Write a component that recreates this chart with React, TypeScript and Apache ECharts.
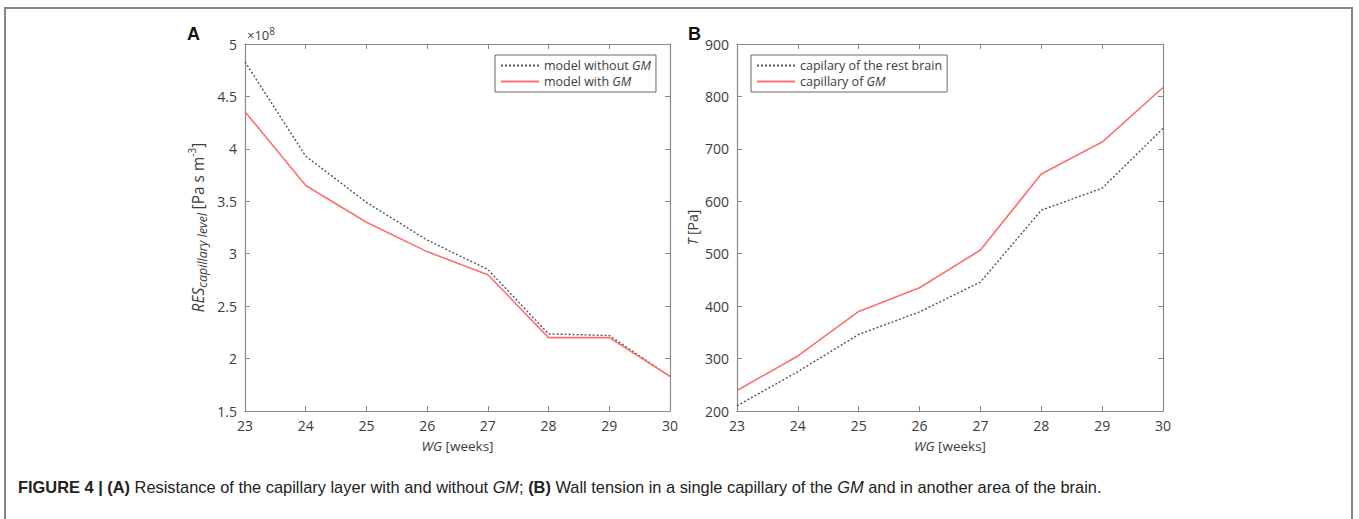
import React, { useEffect, useRef } from "react";
import * as echarts from "echarts";

const weeks = [23, 24, 25, 26, 27, 28, 29, 30];
// Panel A: resistance (x10^8 Pa s m^-3)
const resWithoutGM = [4.83, 3.93, 3.49, 3.13, 2.85, 2.235, 2.22, 1.83];
const resWithGM = [4.355, 3.65, 3.3, 3.02, 2.8, 2.2, 2.2, 1.83];
// Panel B: wall tension (Pa)
const tensionRestBrain = [210, 275, 346, 389, 446, 583, 625, 739];
const tensionGM = [239, 305, 390, 435, 507, 652, 713, 817];

const legendA = ["model without GM", "model with GM"];
const legendB = ["capilary of the rest brain", "capillary of GM"];

const FONT = "Open Sans";
const LABEL = "#3c3c3c";
const FRAME = "#8a8a8a";
const RED = "#ff6f6f";
const DOT = "#555555";

function pairs(xs: number[], ys: number[]) {
  return xs.map((x, i) => [x, ys[i]]);
}

function legendFormatter(name: string) {
  if (name.endsWith("GM")) {
    return "{n|" + name.slice(0, -2) + "}{i|GM}";
  }
  return "{n|" + name + "}";
}

export default function App() {
  const ref = useRef<HTMLDivElement>(null);
  useEffect(() => {
    document.body.style.margin = "0";
    if (!ref.current) return;
    const chart = echarts.init(ref.current, null, { renderer: "svg" });

    const grids = [
      { left: 245, top: 44, width: 425, height: 367 },
      { left: 737, top: 44, width: 426, height: 367 },
    ];

    const xAxisBase = (gridIndex: number, pos: "bottom" | "top") => ({
      type: "value",
      gridIndex,
      position: pos,
      min: 23,
      max: 30,
      interval: 1,
      axisLine: { show: true, onZero: false, lineStyle: { color: FRAME, width: 1.2 } },
      axisTick: { show: true, inside: true, length: 5, lineStyle: { color: FRAME } },
      splitLine: { show: false },
      axisLabel: {
        show: pos === "bottom",
        color: LABEL,
        fontFamily: FONT,
        fontSize: 14,
        margin: 7,
      },
      name: pos === "bottom" ? "{i|WG} {n|[weeks]}" : "",
      nameLocation: "middle",
      nameGap: 28,
      nameTextStyle: {
        rich: {
          i: { fontStyle: "italic", fontFamily: FONT, fontSize: 13.5, color: LABEL },
          n: { fontFamily: FONT, fontSize: 13.5, color: LABEL },
        },
      },
    });

    const yAxisBase = (
      gridIndex: number,
      pos: "left" | "right",
      min: number,
      max: number,
      interval: number,
      name: string,
      nameGap: number
    ) => ({
      type: "value",
      gridIndex,
      position: pos,
      min,
      max,
      interval,
      axisLine: { show: true, onZero: false, lineStyle: { color: FRAME, width: 1.2 } },
      axisTick: { show: true, inside: true, length: 5, lineStyle: { color: FRAME } },
      splitLine: { show: false },
      axisLabel: {
        show: pos === "left",
        color: LABEL,
        fontFamily: FONT,
        fontSize: 14,
        margin: 8,
      },
      name: pos === "left" ? name : "",
      nameLocation: "middle",
      nameRotate: 90,
      nameGap,
      nameTextStyle: {
        rich: {
          i: { fontStyle: "italic", fontFamily: FONT, fontSize: 15.5, color: LABEL, lineHeight: 22 },
          n: { fontFamily: FONT, fontSize: 15.5, color: LABEL, lineHeight: 22 },
          ti: { fontStyle: "italic", fontFamily: FONT, fontSize: 14, color: LABEL, lineHeight: 18 },
          tn: { fontFamily: FONT, fontSize: 14, color: LABEL, lineHeight: 18 },
          sub: { fontStyle: "italic", fontFamily: FONT, fontSize: 12.5, color: LABEL, lineHeight: 12, verticalAlign: "bottom" },
          sup: { fontFamily: FONT, fontSize: 10, color: LABEL, lineHeight: 11, verticalAlign: "top" },
        },
      },
    });

    const legendBase = (left: number, data: string[]) => ({
      show: true,
      left,
      top: 55,
      orient: "vertical",
      data,
      itemWidth: 38,
      itemHeight: 10,
      itemGap: 3,
      padding: [4, 5, 4, 5],
      borderColor: "#666",
      borderWidth: 1,
      itemStyle: { opacity: 0 },
      formatter: legendFormatter,
      textStyle: {
        rich: {
          n: { fontFamily: FONT, fontSize: 12.5, color: LABEL },
          i: { fontFamily: FONT, fontSize: 12.5, fontStyle: "italic", color: LABEL },
        },
      },
    });

    const lineSeries = (name: string, xi: number, yi: number, data: number[][], dotted: boolean) => ({
      type: "line",
      name,
      xAxisIndex: xi,
      yAxisIndex: yi,
      data,
      symbol: "none",
      lineStyle: dotted
        ? { color: DOT, width: 1.4, type: [2, 2] }
        : { color: RED, width: 1.6, type: "solid" },
      itemStyle: { color: dotted ? DOT : RED },
    });

    chart.setOption({
      animation: false,
      backgroundColor: "#ffffff",
      grid: grids,
      xAxis: [xAxisBase(0, "bottom"), xAxisBase(0, "top"), xAxisBase(1, "bottom"), xAxisBase(1, "top")],
      yAxis: [
        yAxisBase(0, "left", 1.5, 5, 0.5,
          "{i|RES}{sub|capillary level} {n|[Pa s m}{sup|-3}{n|]}", 36),
        yAxisBase(0, "right", 1.5, 5, 0.5, "", 0),
        yAxisBase(1, "left", 200, 900, 100, "{ti|T} {tn|[Pa]}", 36),
        yAxisBase(1, "right", 200, 900, 100, "", 0),
      ],
      legend: [legendBase(495, legendA), legendBase(751, legendB)],
      series: [
        lineSeries(legendA[0], 0, 0, pairs(weeks, resWithoutGM), true),
        lineSeries(legendA[1], 0, 0, pairs(weeks, resWithGM), false),
        lineSeries(legendB[0], 2, 2, pairs(weeks, tensionRestBrain), true),
        lineSeries(legendB[1], 2, 2, pairs(weeks, tensionGM), false),
      ],
      graphic: [
        {
          type: "rect",
          shape: { x: 5, y: 8, width: 1347, height: 700 },
          style: { fill: "none", stroke: "#858585", lineWidth: 2 },
          silent: true,
        },
        {
          type: "text",
          x: 187,
          y: 25,
          style: { text: "A", font: "bold 18px 'Liberation Sans'", fill: "#111" },
        },
        {
          type: "text",
          x: 688,
          y: 25,
          style: { text: "B", font: "bold 18px 'Liberation Sans'", fill: "#111" },
        },
        {
          type: "text",
          x: 247,
          y: 26,
          style: {
            text: "{a|×10}{s|8}",
            rich: {
              a: { fontFamily: FONT, fontSize: 13, fill: LABEL, lineHeight: 18 },
              s: { fontFamily: FONT, fontSize: 10, fill: LABEL, lineHeight: 11, verticalAlign: "top" },
            },
          },
        },
        {
          type: "text",
          x: 18,
          y: 479,
          style: {
            text:
              "{b|FIGURE 4 | (A)}{n| Resistance of the capillary layer with and without }{i|GM}{n|; }{b|(B)}{n| Wall tension in a single capillary of the }{i|GM}{n| and in another area of the brain.}",
            rich: {
              b: { fontFamily: "Liberation Sans", fontWeight: "bold", fontSize: 16.4, fill: "#222" },
              n: { fontFamily: "Liberation Sans", fontSize: 16.4, fill: "#222" },
              i: { fontFamily: "Liberation Sans", fontStyle: "italic", fontSize: 16.4, fill: "#222" },
            },
          },
        },
      ],
    });
    return () => chart.dispose();
  }, []);
  return <div ref={ref} style={{ width: 1359, height: 519 }} />;
}
